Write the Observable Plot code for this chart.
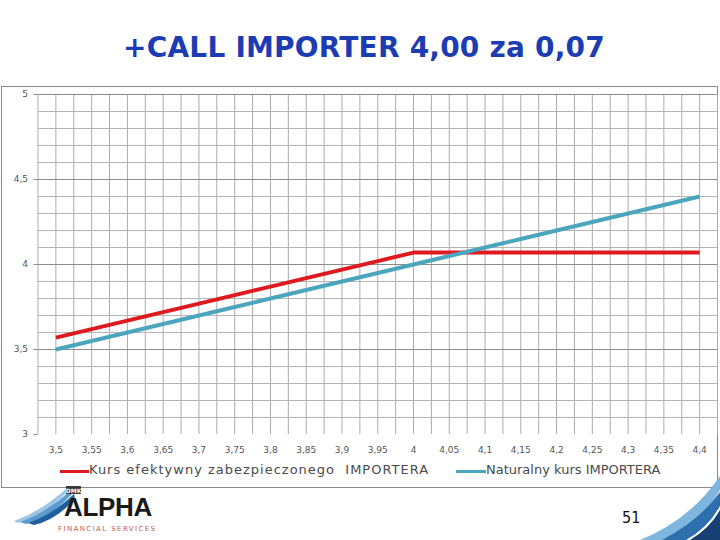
<!DOCTYPE html>
<html>
<head>
<meta charset="utf-8">
<script src="https://cdn.jsdelivr.net/npm/d3@7"></script>
<script src="https://cdn.jsdelivr.net/npm/@observablehq/plot@0.6"></script>
<style>
  body { margin:0; width:720px; height:540px; position:relative; background:#fff; overflow:hidden; font-family:"DejaVu Sans", sans-serif; }
  #title { position:absolute; top:31px; left:4px; width:720px; text-align:center; font-weight:bold; font-size:28px; color:#1c3cb4; font-family:"DejaVu Sans", sans-serif; letter-spacing:0.2px; }
  #frame { position:absolute; left:1px; top:86px; width:715px; height:400px; border:1px solid #8a8a8a; box-sizing:content-box; }
  #chart { position:absolute; left:0; top:86px; }
  .leg { position:absolute; top:462px; font-size:13px; color:#4a4a4a; white-space:pre; }
  .sw { position:absolute; top:470px; height:3px; }
</style>
</head>
<body>
<div id="title">+CALL IMPORTER 4,00 za 0,07</div>
<div id="frame"></div>
<div id="chart"></div>
<div class="sw" style="left:60px;width:29px;background:#e0191f"></div>
<div class="leg" style="left:89px;letter-spacing:1px">Kurs efektywny zabezpieczonego  IMPORTERA</div>
<div class="sw" style="left:456px;width:30px;background:#4ba6bd"></div>
<div class="leg" style="left:486px">Naturalny kurs IMPORTERA</div>
<svg id="deco" width="720" height="540" style="position:absolute;left:0;top:0;pointer-events:none">
  <!-- left logo swooshes -->
  <path d="M14,521 Q40,512 66,489 L68,491 Q44,516 18,523 Z" fill="#9cc6e6"/>
  <path d="M20,522 Q46,513 70,491 L72,494 Q50,518 26,524 Z" fill="#5b9bd0"/>
  <path d="M28,523 Q52,515 74,494 L75,499 Q56,520 34,525 Z" fill="#1f5f9f"/>
  <rect x="66" y="486" width="15" height="8" fill="#3a3a3a"/>
  <text x="73.5" y="492.5" text-anchor="middle" font-size="6" font-weight="bold" fill="#ffffff" font-family="DejaVu Sans">DMK</text>
  <text x="64" y="516" font-size="26" font-weight="bold" fill="#1a1a1a" font-family="Liberation Sans" letter-spacing="-0.3">ALPHA</text>
  <text x="58" y="531" font-size="7" fill="#c85a4a" font-family="DejaVu Sans" letter-spacing="1.4">FINANCIAL SERVICES</text>
  <!-- right swoosh -->
  <path d="M640,540 Q690,520 720,476 L720,490 Q700,525 668,540 Z" fill="#7fb6df"/>
  <path d="M662,540 Q700,520 720,492 L720,506 Q708,528 686,540 Z" fill="#2e6fae"/>
  <path d="M690,540 Q710,528 720,510 L720,540 Z" fill="#173f73"/>
  <text x="622" y="523" font-size="16" fill="#111" font-family="DejaVu Sans Condensed, DejaVu Sans">51</text>
</svg>
<script>
// Data
const kursyX = [3.5, 3.55, 3.6, 3.65, 3.7, 3.75, 3.8, 3.85, 3.9, 3.95, 4.0, 4.05, 4.1, 4.15, 4.2, 4.25, 4.3, 4.35, 4.4];
const efektywny = [3.57, 3.62, 3.67, 3.72, 3.77, 3.82, 3.87, 3.92, 3.97, 4.02, 4.07, 4.07, 4.07, 4.07, 4.07, 4.07, 4.07, 4.07, 4.07];
const naturalny = [3.5, 3.55, 3.6, 3.65, 3.7, 3.75, 3.8, 3.85, 3.9, 3.95, 4.0, 4.05, 4.1, 4.15, 4.2, 4.25, 4.3, 4.35, 4.4];
const yTicks = [3, 3.5, 4, 4.5, 5];
const seriesNames = ["Kurs efektywny zabezpieczonego  IMPORTERA", "Naturalny kurs IMPORTERA"];

const fmt = d => String(+d.toFixed(2)).replace(".", ",");
const rowsEf = kursyX.map((x, i) => ({x, y: efektywny[i]}));
const rowsNat = kursyX.map((x, i) => ({x, y: naturalny[i]}));

const vGrid = d3.range(0, 39).map(i => 3.475 + i * 0.025);
const minorY = d3.range(31, 50).map(i => i / 10).filter(v => !yTicks.some(t => Math.abs(t - v) < 1e-9));
const majorY = [3.5, 4, 4.5, 5];

const chart = Plot.plot({
  width: 718,
  height: 372,
  marginTop: 8,
  marginBottom: 24,
  marginLeft: 37.5,
  marginRight: 1,
  style: {fontFamily: "DejaVu Sans, sans-serif", fontSize: "9px", color: "#555", background: "transparent"},
  x: {type: "linear", domain: [3.475, 4.425], label: null},
  y: {domain: [3, 5], label: null},
  marks: [
    Plot.ruleX(vGrid, {y1: 3, y2: 5, stroke: "#ababab", strokeWidth: 1, strokeOpacity: 1}),
    Plot.ruleY(minorY, {stroke: "#b4b4b4", strokeWidth: 1}),
    Plot.ruleY(majorY, {stroke: "#8c8c8c", strokeWidth: 1}),
    Plot.axisY({ticks: yTicks, tickSize: 4, tickPadding: 6, tickFormat: fmt, stroke: "#8c8c8c", label: null}),
    Plot.axisX({ticks: kursyX, tickSize: 0, tickPadding: 12, tickFormat: fmt, label: null}),
    Plot.line(rowsEf, {x: "x", y: "y", stroke: "#e0191f", strokeWidth: 4, strokeLinecap: "butt", strokeLinejoin: "miter", title: () => seriesNames[0]}),
    Plot.line(rowsNat, {x: "x", y: "y", stroke: "#4ba6bd", strokeWidth: 4, strokeLinecap: "butt", title: () => seriesNames[1]})
  ]
});
document.getElementById("chart").appendChild(chart);
</script>
</body>
</html>
